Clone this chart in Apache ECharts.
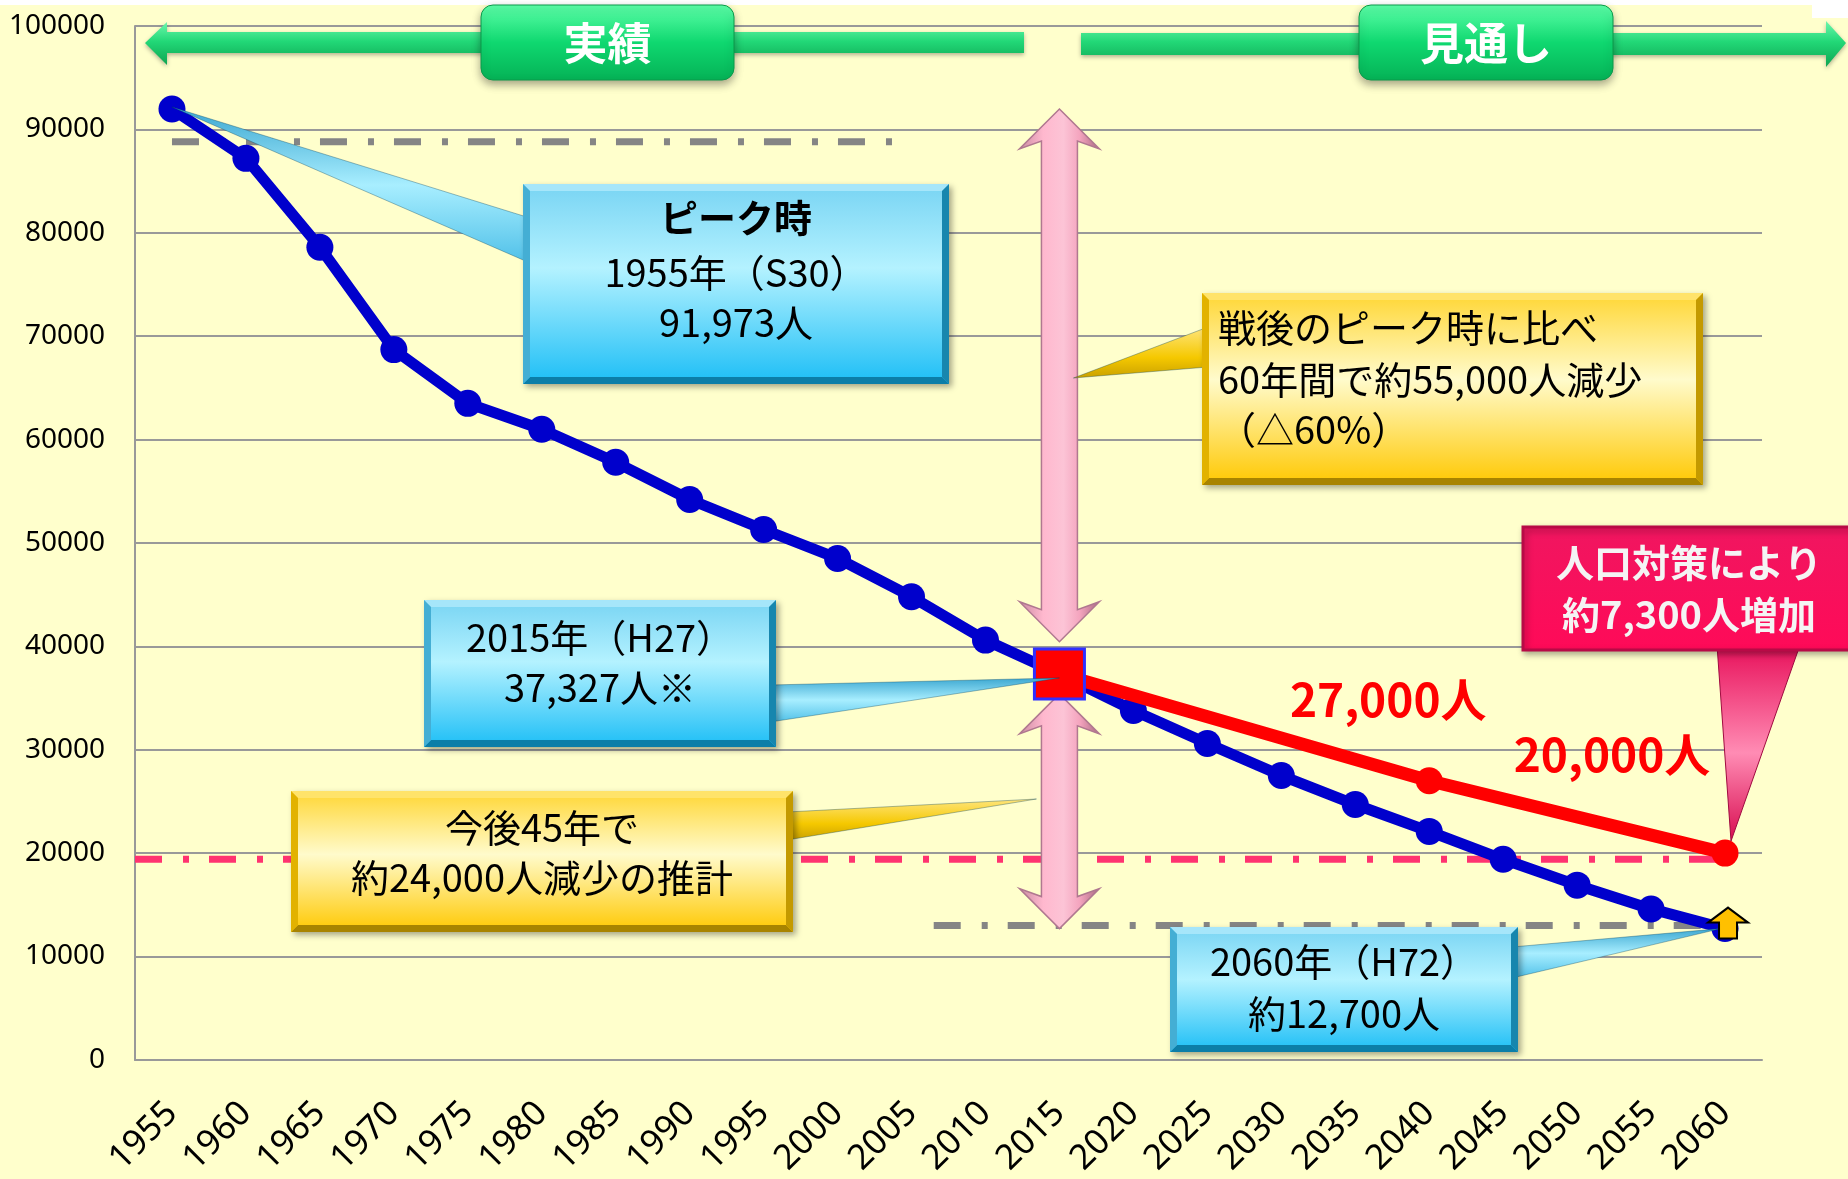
<!DOCTYPE html>
<html>
<head>
<meta charset="utf-8">
<script src="https://cdn.jsdelivr.net/npm/echarts@6/dist/echarts.min.js"></script>
<style>
html, body { margin: 0; padding: 0; background: #FFFFCC; }
#main { width: 1848px; height: 1179px; }
</style>
</head>
<body>
<div id="main"></div>
<script>
// data
const years = ['1955', '1960', '1965', '1970', '1975', '1980', '1985', '1990', '1995', '2000', '2005',
    '2010', '2015', '2020', '2025', '2030', '2035', '2040', '2045', '2050', '2055', '2060'];
const population = [91973, 87200, 78600, 68700, 63500, 61000, 57800, 54200, 51300, 48500, 44800,
    40600, 37327, 33800, 30600, 27500, 24700, 22100, 19400, 16900, 14600, 12700];
const withPolicy = [null, null, null, null, null, null, null, null, null, null, null,
    null, 37327, null, null, null, null, 27000, null, null, null, 20000];
const policyLabels = ['27,000人', '20,000人'];
const yMin = 0;
const yMax = 100000;
const yStep = 10000;
// reference levels (dash-dot lines)
const refLevels = [88800, 19400, 13000];
const refColors = ['#858585', '#FF3370', '#858585'];
const refFrom = [0, -0.5, 10.3];
const refTo = [9.8, 20.9, 21];

const FONT_JP = "'Noto Sans CJK JP', 'Noto Sans', sans-serif";

const policyData = withPolicy.map((v, i) => {
    if (v === null) return null;
    if (i === 12) {
        return {value: v, symbol: 'rect', symbolSize: 50,
            itemStyle: {color: '#FF0000', borderColor: '#3030FF', borderWidth: 3}};
    }
    const k = i === 17 ? 0 : 1;
    return {
        value: v,
        label: {
            show: true, position: 'top',
            offset: k === 0 ? [-41, -40] : [-113, -57],
            formatter: policyLabels[k],
            color: '#FF0000', fontSize: 46, fontWeight: 'bold', fontFamily: FONT_JP
        }
    };
});

const option = {
    backgroundColor: '#FFFFCC',
    animation: false,
    grid: {left: 135, right: 86, top: 26, bottom: 118},
    xAxis: {
        type: 'category',
        data: years,
        boundaryGap: true,
        axisLine: {lineStyle: {color: '#999999', width: 2}},
        axisTick: {show: false},
        axisLabel: {rotate: 45, margin: 48, color: '#000', fontSize: 35, fontFamily: 'Noto Sans', interval: 0}
    },
    yAxis: {
        type: 'value',
        min: yMin, max: yMax, interval: yStep,
        axisLine: {show: true, lineStyle: {color: '#999999', width: 2}},
        axisTick: {show: false},
        axisLabel: {margin: 30, color: '#000', fontSize: 28, fontFamily: 'Noto Sans',
            formatter: (v) => String(v)},
        splitLine: {lineStyle: {color: '#999999', width: 2}}
    },
    series: [
        {
            name: '人口', type: 'line', data: population, z: 2,
            symbol: 'circle', symbolSize: 27,
            lineStyle: {color: '#0000CC', width: 11},
            itemStyle: {color: '#0000CC'}
        },
        {
            name: '人口対策', type: 'line', data: policyData, z: 3,
            connectNulls: true,
            symbol: 'circle', symbolSize: 27,
            lineStyle: {color: '#FF0000', width: 13},
            itemStyle: {color: '#FF0000'}
        }
    ]
};

const chart = echarts.init(document.getElementById('main'));
chart.setOption(option);

// pixel helpers
const p0 = chart.convertToPixel({gridIndex: 0}, [0, 0]);
const p1 = chart.convertToPixel({gridIndex: 0}, [1, 0]);
const step = p1[0] - p0[0];
const px = (i) => p0[0] + i * step;
const py = (v) => chart.convertToPixel({gridIndex: 0}, [0, v])[1];

const LG = echarts.graphic.LinearGradient;
const g = [];

// white strip at top
g.push({type: 'rect', z: 0, shape: {x: 0, y: 0, width: 1848, height: 5}, style: {fill: '#FFFFFF'}});
g.push({type: 'rect', z: 0, shape: {x: 1812, y: 0, width: 36, height: 18}, style: {fill: '#FFFFFF'}});

// dash-dot reference lines
refLevels.forEach((v, k) => {
    g.push({
        type: 'line', z: 1,
        shape: {x1: px(refFrom[k]), y1: py(v), x2: px(refTo[k]), y2: py(v)},
        style: {stroke: refColors[k], lineWidth: 7, lineDash: [27, 21, 6, 20]}
    });
});

// pink double arrows
function vArrow(cx, yTop, yBot) {
    const hw = 40, sw = 18, hl = 40, notch = 8;
    return {
        type: 'polygon', z: 3,
        shape: {points: [[cx, yTop], [cx + hw, yTop + hl], [cx + sw, yTop + hl - notch], [cx + sw, yBot - hl + notch],
            [cx + hw, yBot - hl], [cx, yBot], [cx - hw, yBot - hl], [cx - sw, yBot - hl + notch],
            [cx - sw, yTop + hl - notch], [cx - hw, yTop + hl]]},
        style: {
            fill: new LG(0, 0, 1, 0, [
                {offset: 0, color: '#C98AA0'}, {offset: 0.3, color: '#FFB8CE'},
                {offset: 0.55, color: '#FCC4D6'}, {offset: 0.75, color: '#F4A4BE'},
                {offset: 1, color: '#A86880'}]),
            stroke: '#B07890', lineWidth: 1.5
        }
    };
}
const cx15 = px(12);
g.push(vArrow(cx15, py(population[0]), py(40450)));
g.push(vArrow(cx15, py(35400), py(population[21])));

// green arrows on top
const greenBody = new LG(0, 0, 0, 1, [
    {offset: 0, color: '#6CF7AC'}, {offset: 0.45, color: '#22D877'}, {offset: 1, color: '#0EA552'}]);
g.push({type: 'polygon', z: 3, shape: {points: [[145, 43], [167, 22], [167, 32], [1024, 32], [1024, 53],
    [167, 53], [167, 65]]}, style: {fill: greenBody, shadowBlur: 4, shadowOffsetY: 2, shadowColor: 'rgba(0,0,0,0.3)'}});
g.push({type: 'polygon', z: 3, shape: {points: [[1081, 33], [1826, 33], [1826, 21], [1846, 43], [1826, 67],
    [1826, 55], [1081, 55]]}, style: {fill: greenBody, shadowBlur: 4, shadowOffsetY: 2, shadowColor: 'rgba(0,0,0,0.3)'}});

function greenTag(x, w, text) {
    g.push({
        type: 'rect', z: 4, shape: {x: x, y: 5, width: w, height: 75, r: 12},
        style: {
            fill: new LG(0, 0, 0, 1, [{offset: 0, color: '#5CFFA8'}, {offset: 0.5, color: '#0FD870'},
                {offset: 1, color: '#05B256'}]),
            stroke: '#0A9A4A', lineWidth: 1,
            shadowBlur: 8, shadowOffsetY: 4, shadowColor: 'rgba(0,0,0,0.35)'
        }
    });
    g.push({
        type: 'text', z: 5,
        style: {text: text, x: x + w / 2, y: 43, align: 'center', verticalAlign: 'middle',
            fill: '#FFFFFF', fontSize: 44, fontWeight: 'bold', fontFamily: FONT_JP}
    });
}
greenTag(481, 253, '実績');
greenTag(1359, 254, '見通し');

// callout boxes
const BLUE = {
    fill: [{offset: 0, color: '#78D4F3'}, {offset: 0.42, color: '#B4F2FF'}, {offset: 1, color: '#1CBEF6'}],
    top: '#A6E6FA', bottom: '#0C7EA8', left: '#44AED4', right: '#1786AE',
    ptr: [{offset: 0, color: '#3AA6D0'}, {offset: 0.5, color: '#A8EEFF'}, {offset: 1, color: '#4FC0E8'}]
};
const YELLOW = {
    fill: [{offset: 0, color: '#FFD633'}, {offset: 0.45, color: '#FFFBCC'}, {offset: 1, color: '#FFC800'}],
    top: '#FFE36A', bottom: '#A88400', left: '#E2B200', right: '#C49A00',
    ptr: [{offset: 0, color: '#FFE680'}, {offset: 0.6, color: '#F5C800'}, {offset: 1, color: '#C9A000'}]
};

function pointer(pts, pal) {
    g.push({
        type: 'polygon', z: 4, shape: {points: pts},
        style: {fill: new LG(0, 0, 0, 1, pal.ptr), stroke: 'rgba(0,60,90,0.35)', lineWidth: 1}
    });
}

function box(x, y, w, h, pal, lines, opts) {
    const b = 7;
    g.push({
        type: 'rect', z: 5, shape: {x: x, y: y, width: w, height: h},
        style: {fill: new LG(0, 0, 0, 1, pal.fill),
            shadowBlur: 6, shadowOffsetX: 3, shadowOffsetY: 3, shadowColor: 'rgba(0,0,0,0.35)'}
    });
    g.push({type: 'polygon', z: 5, shape: {points: [[x, y], [x + w, y], [x + w - b, y + b], [x + b, y + b]]}, style: {fill: pal.top}});
    g.push({type: 'polygon', z: 5, shape: {points: [[x, y + h], [x + w, y + h], [x + w - b, y + h - b], [x + b, y + h - b]]}, style: {fill: pal.bottom}});
    g.push({type: 'polygon', z: 5, shape: {points: [[x, y], [x + b, y + b], [x + b, y + h - b], [x, y + h]]}, style: {fill: pal.left}});
    g.push({type: 'polygon', z: 5, shape: {points: [[x + w, y], [x + w - b, y + b], [x + w - b, y + h - b], [x + w, y + h]]}, style: {fill: pal.right}});
    lines.forEach((ln) => {
        g.push({
            type: 'text', z: 6,
            style: {text: ln.t, x: opts.align === 'left' ? opts.x : x + w / 2, y: ln.y,
                align: opts.align || 'center', verticalAlign: 'middle',
                fill: '#000000', fontSize: 38, fontWeight: ln.bold ? 'bold' : 'normal', fontFamily: FONT_JP}
        });
    });
}

// peak
const peak = [px(0), py(population[0])];
pointer([[peak[0], peak[1] - 2], [530, 218], [530, 263]], BLUE);
box(523, 184, 426, 200, BLUE, [
    {t: 'ピーク時', y: 218, bold: true}, {t: '1955年（S30）', y: 273}, {t: '91,973人', y: 323}], {});

// 60 years comparison
pointer([[cx15 + 14, 378], [1208, 327], [1208, 367]], YELLOW);
box(1202, 293, 501, 192, YELLOW, [
    {t: '戦後のピーク時に比べ', y: 328}, {t: '60年間で約55,000人減少', y: 380}, {t: '（△60%）', y: 430}],
    {align: 'left', x: 1218});

// 2015
const p15 = [px(12), py(population[12])];
pointer([[p15[0], p15[1] + 4], [770, 685], [770, 722]], BLUE);
box(424, 600, 352, 147, BLUE, [{t: '2015年（H27）', y: 638}, {t: '37,327人※', y: 688}], {});

// next 45 years
pointer([[cx15 - 23, 799], [787, 812], [787, 840]], YELLOW);
box(291, 791, 502, 141, YELLOW, [{t: '今後45年で', y: 828}, {t: '約24,000人減少の推計', y: 878}], {});

// 2060
const p60 = [px(21), py(population[21])];
pointer([[p60[0] - 4, p60[1]], [1512, 947], [1512, 978]], BLUE);
box(1170, 927, 348, 125, BLUE, [{t: '2060年（H72）', y: 962}, {t: '約12,700人', y: 1014}], {});

// policy effect (pink)
const r60 = [px(21), py(withPolicy[21])];
g.push({
    type: 'polygon', z: 4, shape: {points: [[1717, 645], [1800, 645], [r60[0] + 6, r60[1] - 12]]},
    style: {fill: new LG(0, 0, 0, 1, [{offset: 0, color: '#E8105A'}, {offset: 0.55, color: '#FF8CB4'},
        {offset: 1, color: '#D80C50'}]), stroke: '#A00A40', lineWidth: 1}
});
g.push({
    type: 'rect', z: 5, shape: {x: 1523, y: 527, width: 330, height: 123},
    style: {fill: new LG(0, 0, 0, 1, [{offset: 0, color: '#F01660'}, {offset: 1, color: '#FF0A58'}]),
        stroke: '#B80A46', lineWidth: 3,
        shadowBlur: 6, shadowOffsetX: 2, shadowOffsetY: 3, shadowColor: 'rgba(0,0,0,0.3)'}
});
[{t: '人口対策により', y: 563}, {t: '約7,300人増加', y: 615}].forEach((ln) => {
    g.push({
        type: 'text', z: 6,
        style: {text: ln.t, x: 1689, y: ln.y, align: 'center', verticalAlign: 'middle',
            fill: '#F4F4F4', fontSize: 38, fontWeight: 'bold', fontFamily: FONT_JP}
    });
});

// small orange arrow at 2060
const ax = p60[0] + 3, ay = p60[1];
g.push({
    type: 'polygon', z: 6,
    shape: {points: [[ax, ay - 21], [ax + 20, ay - 6], [ax + 9, ay - 6], [ax + 9, ay + 10], [ax - 9, ay + 10],
        [ax - 9, ay - 6], [ax - 20, ay - 6]]},
    style: {fill: '#FFC000', stroke: '#000000', lineWidth: 2}
});

chart.setOption({graphic: g});
</script>
</body>
</html>
